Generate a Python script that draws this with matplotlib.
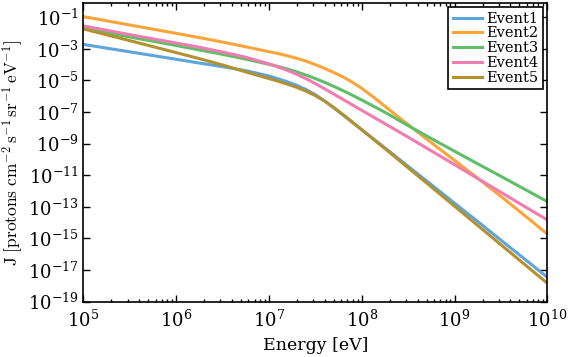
import matplotlib
matplotlib.use('Agg')
from matplotlib import pyplot as plt
from matplotlib.ticker import FixedLocator, LogLocator, NullLocator
import numpy as np

# log10(E / eV) sample points and log10(J)
log_energy = [5.0, 5.5, 6.0, 6.25, 6.5, 6.75, 7.0, 7.1, 7.2, 7.3, 7.4, 7.5, 7.6, 7.7,
              7.8, 7.9, 8.0, 8.1, 8.2, 8.3, 8.4, 8.5, 8.75, 9.0, 9.25, 9.5, 9.75, 10.0]

event1 = [-2.72, -3.19, -3.66, -3.90, -4.13, -4.38, -4.72, -4.90, -5.09, -5.31, -5.58, -5.90, -6.30, -6.74,
          -7.20, -7.66, -8.12, -8.58, -9.04, -9.50, -9.97, -10.44, -11.60, -12.77, -13.93, -15.11, -16.28, -17.46]
event2 = [-0.96, -1.49, -2.02, -2.29, -2.57, -2.87, -3.18, -3.30, -3.44, -3.60, -3.78, -4.00, -4.24, -4.50,
          -4.78, -5.12, -5.50, -5.94, -6.40, -6.87, -7.34, -7.80, -8.94, -10.06, -11.19, -12.34, -13.52, -14.72]
event3 = [-1.70, -2.25, -2.79, -3.07, -3.35, -3.65, -3.98, -4.12, -4.28, -4.46, -4.66, -4.88, -5.12, -5.38,
          -5.65, -5.94, -6.24, -6.55, -6.86, -7.18, -7.52, -7.86, -8.68, -9.48, -10.28, -11.07, -11.87, -12.67]
event4 = [-1.55, -2.10, -2.63, -2.90, -3.20, -3.53, -3.95, -4.15, -4.37, -4.61, -4.89, -5.20, -5.53, -5.87,
          -6.21, -6.55, -6.89, -7.23, -7.57, -7.91, -8.25, -8.59, -9.46, -10.33, -11.21, -12.08, -12.96, -13.83]
event5 = [-1.74, -2.48, -3.24, -3.62, -4.02, -4.46, -4.88, -5.05, -5.24, -5.44, -5.68, -5.96, -6.31, -6.72,
          -7.17, -7.64, -8.12, -8.60, -9.08, -9.56, -10.04, -10.53, -11.74, -12.96, -14.18, -15.40, -16.62, -17.84]

labels = ['Event1', 'Event2', 'Event3', 'Event4', 'Event5']
colors = ['#5DA5DA', '#FAA43A', '#60BD68', '#F17CB0', '#B2912F']
series = [event1, event2, event3, event4, event5]

plt.rcParams['font.family'] = 'DejaVu Serif'
plt.rcParams['mathtext.fontset'] = 'cm'

fig = plt.figure(figsize=(5.72, 3.57), dpi=100)
ax = fig.add_axes([0.1456, 0.155, 0.8114, 0.8366])

energy = 10.0 ** np.array(log_energy)
for vals, lab, col in zip(series, labels, colors):
    ax.plot(energy, 10.0 ** np.array(vals), color=col, lw=2.2, label=lab)

ax.set_xscale('log')
ax.set_yscale('log')
ax.set_xlim(1e5, 1e10)
ax.set_ylim(1e-19, 10 ** -0.1)

ax.yaxis.set_major_locator(FixedLocator([10.0 ** p for p in range(-19, 0, 2)]))
ax.yaxis.set_minor_locator(NullLocator())
ax.xaxis.set_major_locator(LogLocator(base=10, numticks=10))
ax.xaxis.set_minor_locator(LogLocator(base=10, subs=np.arange(2, 10), numticks=20))

ax.tick_params(which='both', direction='in', top=True, right=True, labelsize=13)
ax.tick_params(which='major', length=5, width=1)
ax.tick_params(which='minor', length=2.5, width=1)
ax.tick_params(axis='x', pad=6)
for s in ax.spines.values():
    s.set_linewidth(1.2)

ax.set_xlabel('Energy [eV]', fontsize=12.5)
ax.set_ylabel(r'$\mathrm{J\ [protons\ cm^{-2}\,s^{-1}\,sr^{-1}\,eV^{-1}]}$', fontsize=12.5, labelpad=1)

leg = ax.legend(loc='upper right', fontsize=10.5, fancybox=False, framealpha=1,
                edgecolor='black', labelspacing=0.05, handlelength=2.0,
                handletextpad=0.3, borderpad=0.3, borderaxespad=0.3)
leg.get_frame().set_linewidth(1.2)

fig.savefig('out.png', dpi=100)
